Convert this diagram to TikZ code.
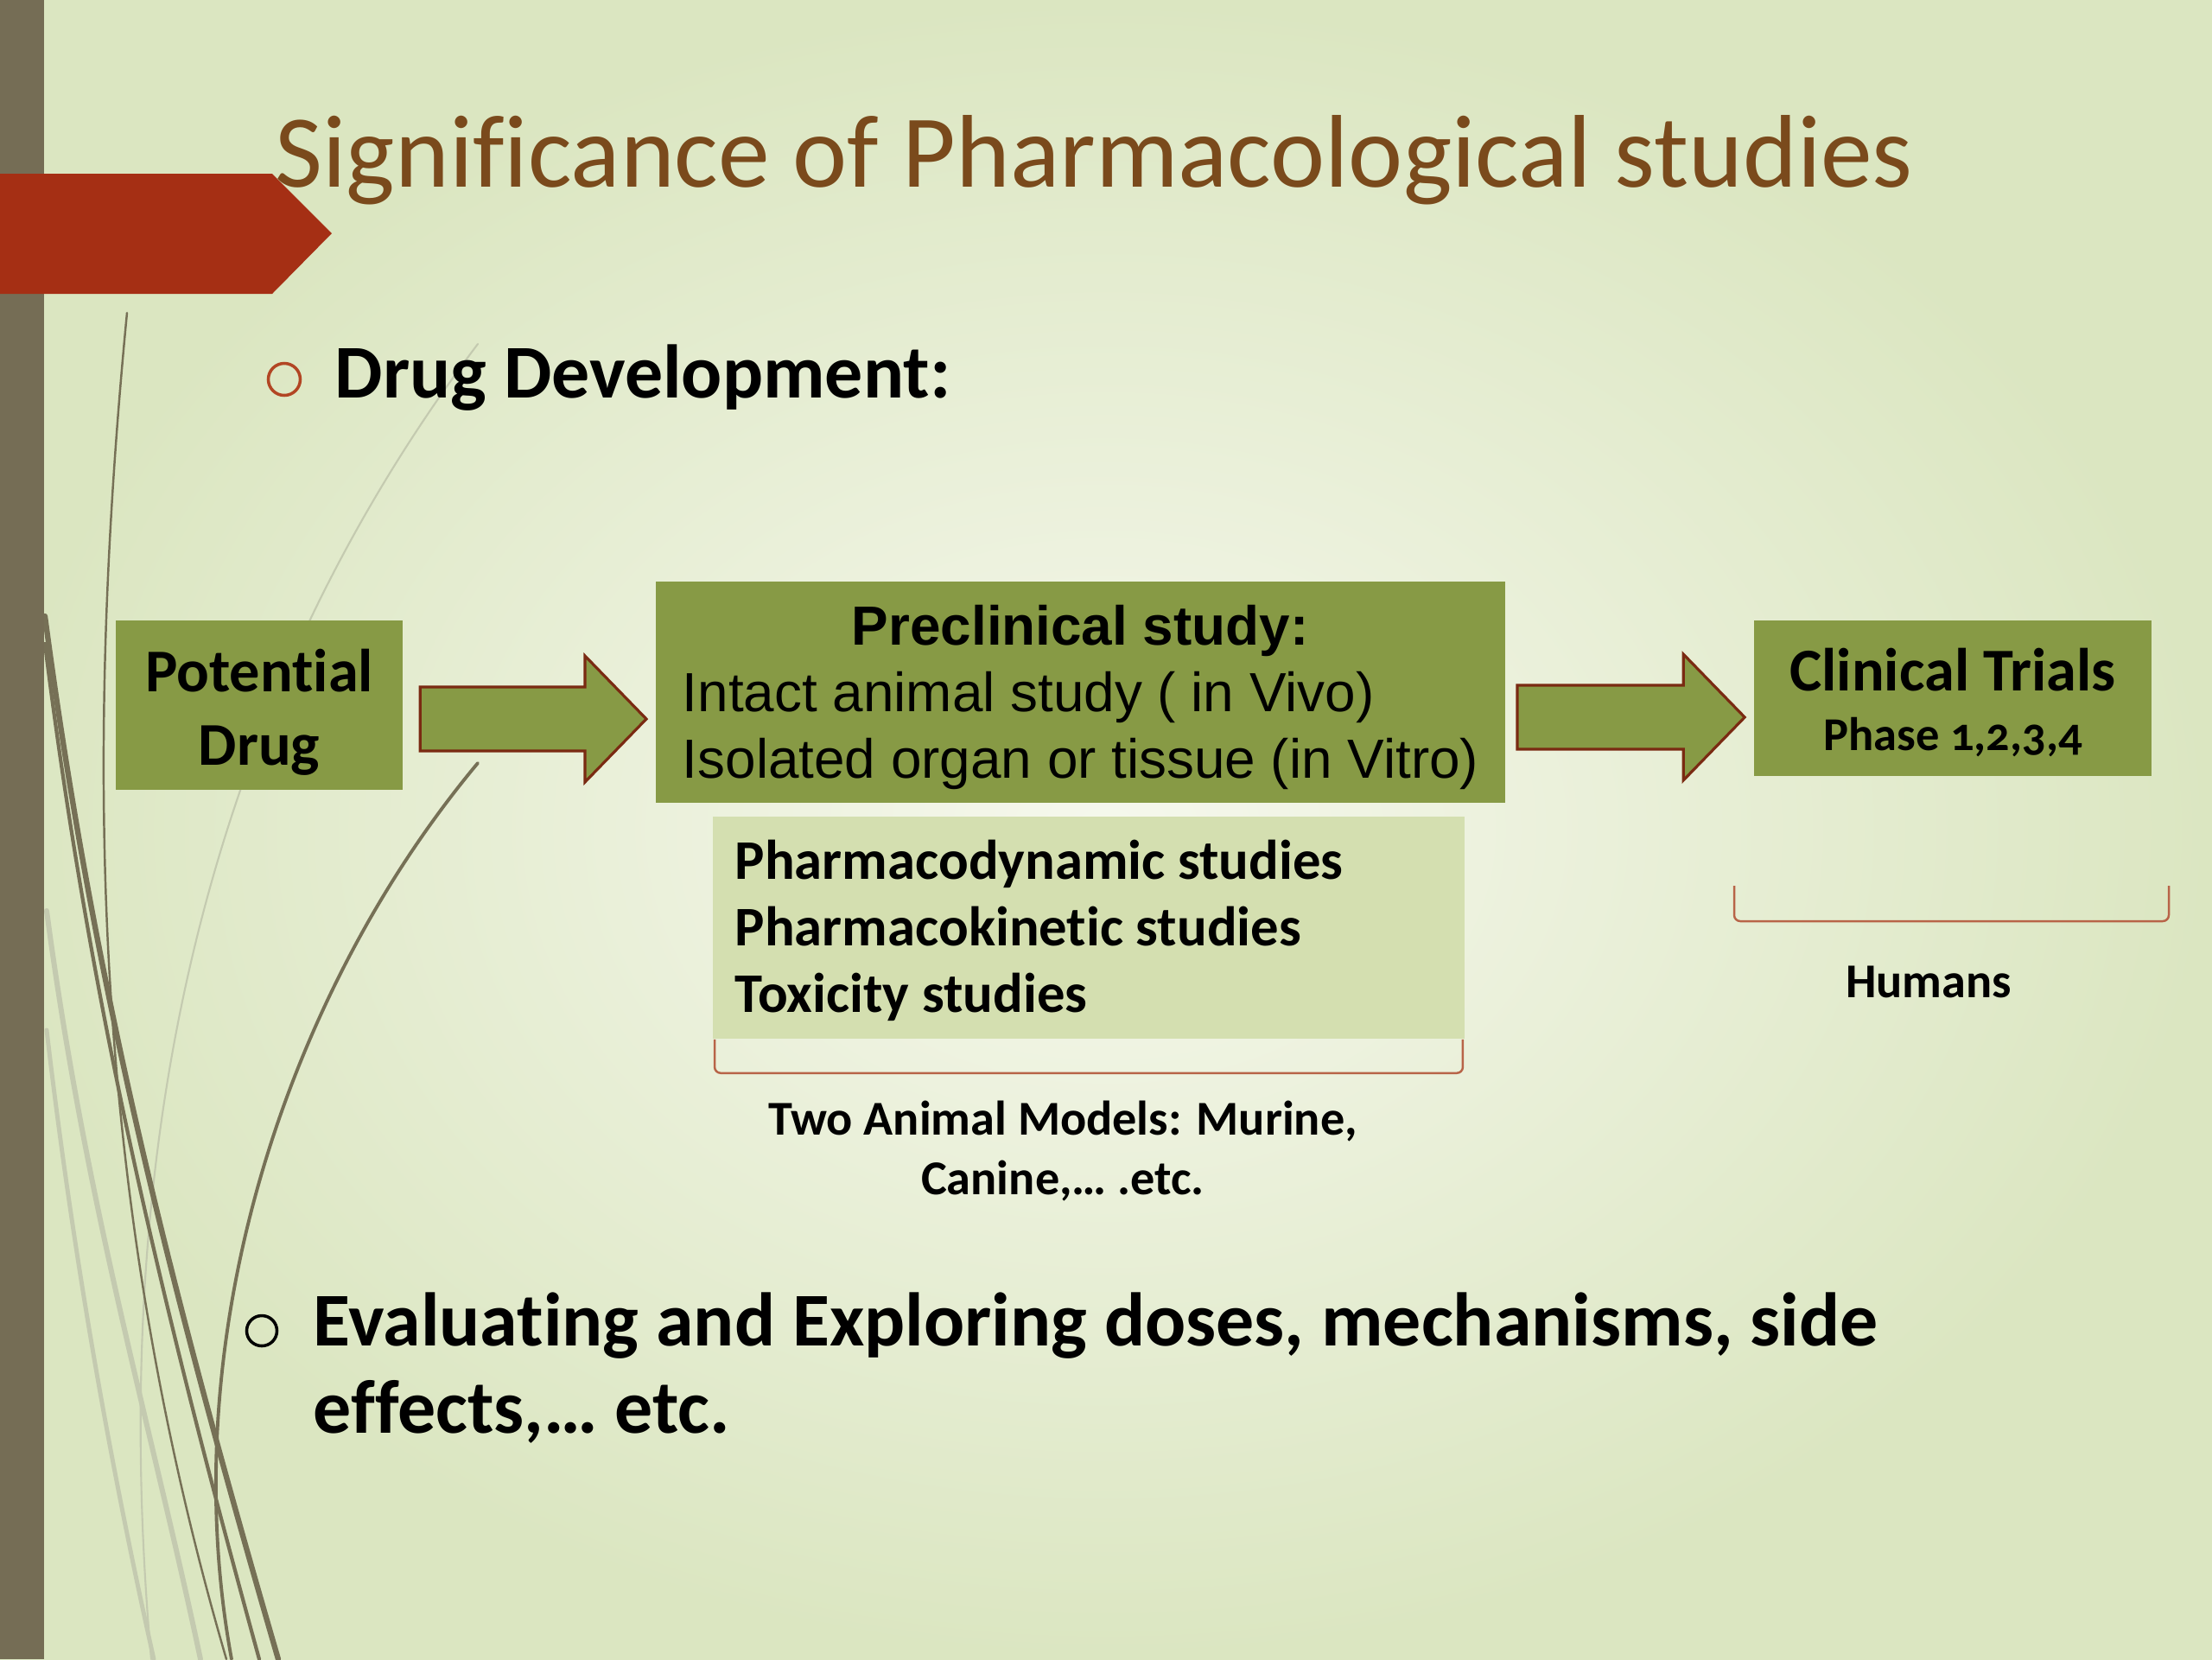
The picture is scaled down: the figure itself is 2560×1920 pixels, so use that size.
\documentclass[tikz,border=0pt]{standalone}
\usepackage{fontspec}
\setmainfont{Carlito}[Ligatures=NoCommon]
\newfontfamily\arialfont{Liberation Sans}
\usetikzlibrary{calc}
\definecolor{bgpale}{RGB}{246,248,237}
\definecolor{bgdeep}{RGB}{219,230,193}
\definecolor{rail}{RGB}{117,109,85}
\definecolor{banner}{RGB}{165,47,20}
\definecolor{heading}{RGB}{122,74,28}
\definecolor{stage}{RGB}{135,154,69}
\definecolor{stagelight}{RGB}{212,223,176}
\definecolor{rim}{RGB}{122,42,18}
\definecolor{brace}{RGB}{184,100,72}
\definecolor{wisp}{RGB}{118,112,86}
\definecolor{wisplight}{RGB}{196,202,176}
\definecolor{dot}{RGB}{178,70,36}
\tikzset{
  stagebox/.style={fill=stage,inner sep=0pt,align=center,text=black},
  notebox/.style={fill=stagelight,inner sep=0pt},
  fatarr/.style={fill=stage,draw=rim,line width=0.9pt,line join=miter},
  bracket/.style={draw=brace,line width=0.7pt,rounded corners=2pt},
  bullet/.style={circle,draw=#1,line width=1pt,minimum size=0.37cm,inner sep=0pt},
  bullet/.default=dot,
  wisp/.style={draw=#1,line cap=round},
  wisp/.default=wisp,
  lead/.style={font=\fontsize{25}{28.5}\selectfont\bfseries,anchor=base west,inner sep=0pt},
  caption/.style={font=\fontsize{16}{19.6}\selectfont\bfseries,anchor=base,inner sep=0pt,align=center},
}
% block arrow from #1 to its tip #2 (same height)
\newcommand\fatarrow[2]{%
  \draw[fatarr] ($(#1)+(0,-37)$) -- ($(#2)+(-71,-37)$) -- ($(#2)+(-71,-73)$) -- (#2)
    -- ($(#2)+(-71,73)$) -- ($(#2)+(-71,37)$) -- ($(#1)+(0,37)$) -- cycle;}

\begin{document}
\begin{tikzpicture}[x=0.01cm,y=-0.01cm]
  \shade[inner color=bgpale,outer color=bgdeep] (0,0) rectangle (2560,1920);
  \useasboundingbox (0,0) rectangle (2560,1920);
  % wisps on the left
  \draw[wisp=wisplight,line width=1.7pt] (54,1054) .. controls (100,1400) and (175,1650) .. (232,1920);
  \draw[wisp=wisplight,line width=1.4pt] (54,1192) .. controls (90,1500) and (140,1750) .. (178,1920);
  \draw[wisp=wisplight,line width=0.6pt] (553,398) .. controls (250,800) and (120,1300) .. (175,1920);
  \draw[wisp,line width=0.7pt] (147,362) .. controls (95,900) and (110,1400) .. (262,1920);
  \draw[wisp,line width=1.8pt] (52,713) .. controls (110,1150) and (200,1500) .. (322,1920);
  \draw[wisp,line width=1.2pt] (52,745) .. controls (105,1170) and (190,1520) .. (300,1920);
  \draw[wisp,line width=1.1pt] (553,883) .. controls (330,1150) and (200,1550) .. (268,1920);
  \fill[rail] (0,0) rectangle (51,1920);
  \fill[banner] (0,201) -- (315,201) -- (384,270) -- (315,340) -- (0,340) -- cycle;
  \node[anchor=base west,inner sep=0pt,text=heading,font=\fontsize{34}{40}\selectfont] (title) at (318,216)
    {Significance of Pharmacological studies};

  \node[bullet] (dot1) at (329,439) {};
  \node[lead] (dev) at (387,460) {Drug Development:};

  % stages
  \node[stagebox,minimum width=3.31cm,minimum height=1.96cm,font=\fontsize{20}{24.2}\selectfont\bfseries] (drug) at (300,816)
    {\rule{0pt}{18.5pt}Potential\\Drug};
  \node[stagebox,minimum width=9.83cm,minimum height=2.56cm,align=left,font=\arialfont\fontsize{18.15}{21.9}\selectfont] (pre) at (1250.5,801)
    {\makebox[9.2cm]{\rule{0pt}{16.5pt}\bfseries Preclinical study:}\\Intact animal study ( in Vivo)\\Isolated organ or tissue (in Vitro)};
  \node[stagebox,minimum width=4.60cm,minimum height=1.80cm,font=\fontsize{20}{19.5}\selectfont\bfseries] (clin) at (2260,808)
    {\rule{0pt}{17pt}Clinical Trials\\{\fontsize{15.5}{19.5}\selectfont\addfontfeatures{Numbers=OldStyle}Phase 1,2,3,4}};

  \coordinate (a1s) at ($(drug.east)+(20,16)$);
  \coordinate (a1t) at ($(pre.west)+(-10,31)$);
  \coordinate (a2s) at ($(pre.east)+(13,29)$);
  \coordinate (a2t) at ($(clin.west)+(-10,22)$);
  \fatarrow{a1s}{a1t}
  \fatarrow{a2s}{a2t}

  % animal studies
  \node[notebox,minimum width=8.70cm,minimum height=2.57cm] (pk) at (1260,1073.5) {};
  \node[anchor=base west,inner sep=0pt,align=left,font=\fontsize{18.4}{21.9}\selectfont\bfseries] (pklist) at ($(pk.north west)+(26,227)$)
    {Pharmacodynamic studies\\Pharmacokinetic studies\\Toxicity studies};
  \draw[bracket] ($(pk.south west)+(3,0)$) -- ++(0,39) -- ($(pk.south east)+(-3,39)$) -- ++(0,-39);
  \node[caption] (models) at (1230,1382) {Two Animal Models: Murine,\\Canine,… .etc.};

  % humans
  \coordinate (hl) at (2007,1025);
  \coordinate (hr) at (2510,1025);
  \draw[bracket] (hl) -- ++(0,41) -- ($(hr)+(0,41)$) -- (hr);
  \node[caption] (hum) at (2232,1154) {Humans};

  \node[bullet=black,minimum size=0.35cm] (dot2) at (303,1540) {};
  \node[lead,align=left] (eval) at (362,1658) {Evaluating and Exploring doses, mechanisms, side\\effects,… etc.};
\end{tikzpicture}
\end{document}
